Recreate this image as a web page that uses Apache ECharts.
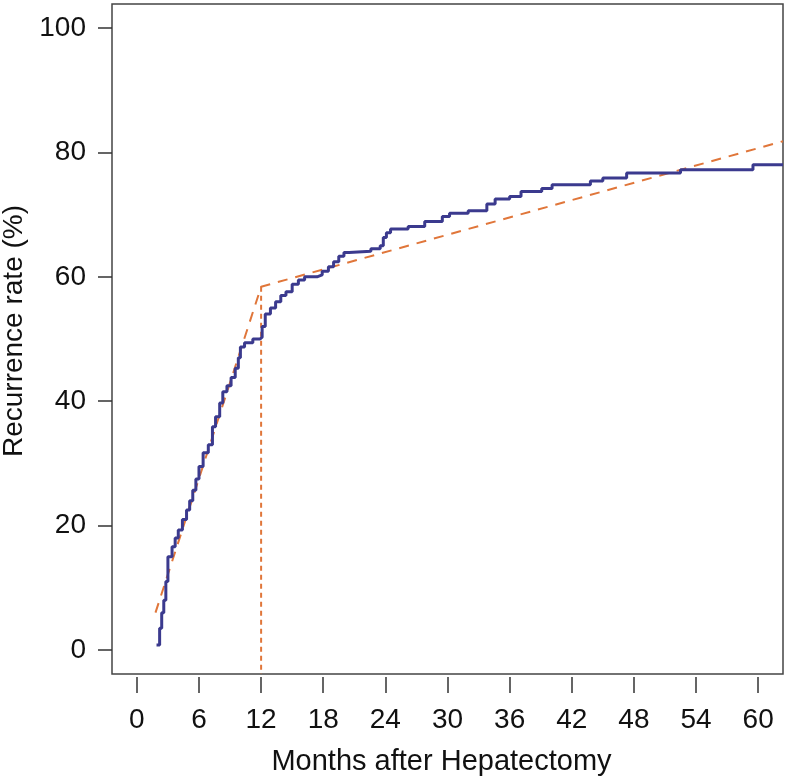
<!DOCTYPE html>
<html>
<head>
<meta charset="utf-8">
<script src="https://cdn.jsdelivr.net/npm/echarts@6/dist/echarts.min.js"></script>
<style>html,body{margin:0;padding:0;background:#fff}#c{width:787px;height:781px}</style>
</head>
<body>
<div id="c"></div>
<script>
// Axis ticks / labels
const xTicks = [0, 6, 12, 18, 24, 30, 36, 42, 48, 54, 60];
const yTicks = [0, 20, 40, 60, 80, 100];
const xRange = [-2.4, 62.4];
const yRange = [-3.86, 103.86];

// Kaplan-Meier cumulative recurrence (months, %)
const kmMonths = [1.9, 2.2, 2.4, 2.6, 2.8, 3.0, 3.4, 3.7, 4.0, 4.4, 4.8, 5.1, 5.4, 5.7, 6.0, 6.4, 6.9, 7.3, 7.6, 8.0,
  8.3, 8.7, 9.1, 9.5, 9.8, 10.0, 10.4, 11.2, 11.9, 12.1, 12.4, 12.9, 13.4, 13.9, 14.4, 15.0, 15.6, 16.2, 17.4, 17.9,
  18.5, 19.0, 19.5, 20.0, 20.5, 22.6, 23.5, 23.8, 24.1, 24.5, 26.2, 27.8, 29.5, 30.2, 32.0, 33.8, 34.6, 36.0, 37.1,
  39.1, 40.1, 43.8, 45.0, 47.3, 52.5, 59.5, 62.4];
const kmRate = [0.8, 3.5, 6.0, 8.0, 11.0, 15.0, 16.6, 18.0, 19.3, 21.0, 22.5, 24.0, 25.7, 27.5, 29.5, 31.7, 33.0, 35.9, 37.5, 39.7,
  41.5, 42.5, 43.8, 45.3, 47.0, 48.7, 49.4, 50.0, 50.3, 52.0, 54.0, 55.0, 56.0, 57.0, 57.6, 58.8, 59.5, 60.0, 60.3, 60.9,
  61.6, 62.4, 63.3, 63.9, 64.1, 64.5, 65.0, 66.3, 67.1, 67.7, 68.1, 68.9, 69.7, 70.2, 70.6, 71.7, 72.5, 72.9, 73.7,
  74.2, 74.8, 75.4, 75.9, 76.7, 77.2, 78.0, 78.0];

// Piecewise linear fit (months, %)
const fitMonths = [1.8, 12.0, 62.4];
const fitRate = [6.0, 58.4, 81.8];

// Breakpoint marker
const breakMonth = 12;
const breakRate = 58.4;

const zip = (a, b) => a.map((v, i) => [v, b[i]]);
const font = '"Liberation Sans", Arial, Helvetica, sans-serif';

const chart = echarts.init(document.getElementById('c'), null, {renderer: 'canvas'});
chart.setOption({
  animation: false,
  backgroundColor: '#fff',
  grid: {left: 112, right: 4, top: 4, bottom: 107, show: true, containLabel: false, outerBoundsMode: 'none',
    borderColor: '#444', borderWidth: 1.5, backgroundColor: 'transparent'},
  xAxis: {
    type: 'value', min: xRange[0], max: xRange[1], offset: 3,
    axisLine: {show: false, onZero: false},
    splitLine: {show: false},
    axisTick: {show: true, length: 16, inside: false, customValues: xTicks, lineStyle: {color: '#333', width: 1.5}},
    axisLabel: {customValues: xTicks, margin: 29, fontSize: 28, color: '#111', fontFamily: font},
    name: 'Months after Hepatectomy', nameLocation: 'middle', nameGap: 70,
    nameTextStyle: {fontSize: 29, color: '#111', fontFamily: font, padding: [0, 12, 0, 0]}
  },
  yAxis: {
    type: 'value', min: yRange[0], max: yRange[1],
    axisLine: {show: false, onZero: false},
    splitLine: {show: false},
    axisTick: {show: true, length: 14, customValues: yTicks, lineStyle: {color: '#333', width: 1.5}},
    axisLabel: {customValues: yTicks, margin: 26, fontSize: 28, color: '#111', fontFamily: font},
    name: 'Recurrence rate (%)', nameLocation: 'middle', nameGap: 83, nameRotate: 90,
    nameTextStyle: {fontSize: 28, color: '#111', fontFamily: font, padding: [0, 0, 0, 16]}
  },
  series: [
    {
      type: 'line', data: zip(fitMonths, fitRate), showSymbol: false, z: 3,
      lineStyle: {color: '#e0763a', width: 2, type: [10, 8]}
    },
    {
      type: 'line', data: [[breakMonth, breakRate], [breakMonth, yRange[0]]], showSymbol: false, z: 3,
      lineStyle: {color: '#e0763a', width: 2, type: [5, 4]}
    },
    {
      type: 'line', step: 'end', data: zip(kmMonths, kmRate), showSymbol: false, z: 4,
      lineStyle: {color: '#3b3a8e', width: 3}
    }
  ]
});
</script>
</body>
</html>
